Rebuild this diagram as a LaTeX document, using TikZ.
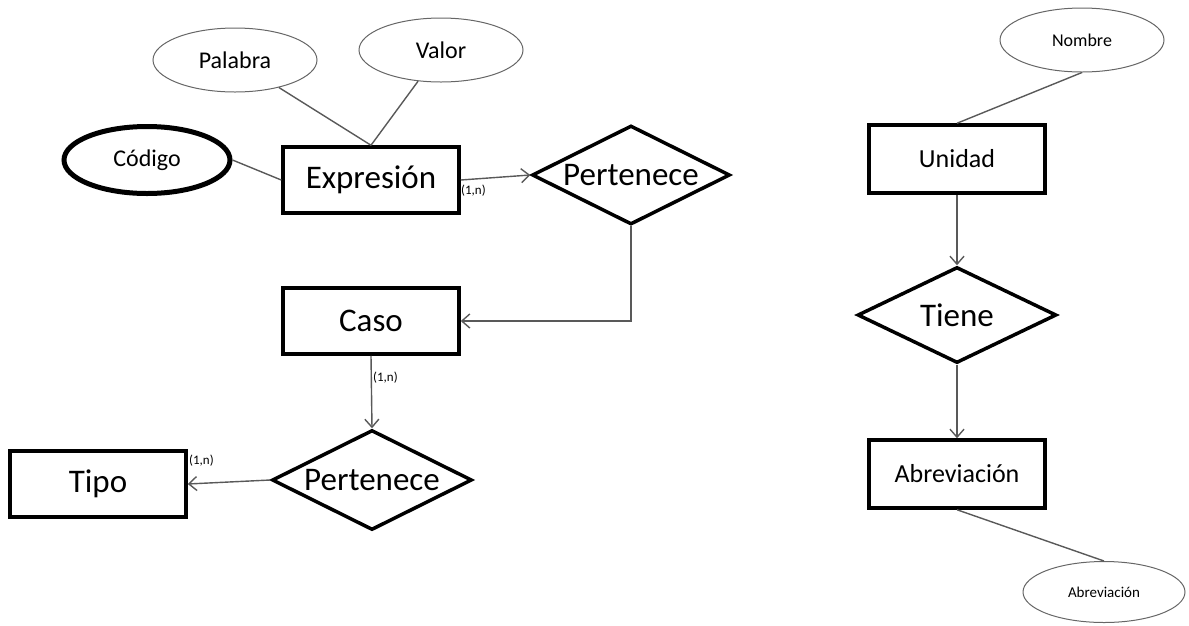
\documentclass[tikz,border=0pt]{standalone}
\usepackage{fontspec}
\setmainfont{Carlito}
\usetikzlibrary{shapes.geometric,arrows.meta}
\begin{document}
\begin{tikzpicture}[x=1pt,y=-1pt,
  entity/.style={draw=black,line width=3.5pt,rectangle,minimum width=176pt,minimum height=66pt,inner sep=0pt,font=\fontsize{33}{36}\selectfont},
  relation/.style={draw=black,line width=3.5pt,diamond,aspect=2,minimum width=198pt,minimum height=99pt,inner sep=0pt,font=\fontsize{33}{36}\selectfont},
  attrib/.style={draw=black!60,line width=1pt,ellipse,minimum width=164pt,minimum height=64pt,inner sep=0pt,font=\fontsize{24}{26}\selectfont},
  keyattrib/.style={attrib,draw=black,line width=5pt},
  link/.style={draw=black!65,line width=1.4pt},
  arrowlink/.style={link,-{Straight Barb[length=8pt,width=14pt]}},
  card/.style={font=\fontsize{13}{15}\selectfont,inner sep=1pt}
]
\useasboundingbox (0,0) rectangle (1189,625);

% left part: Expresion, Caso, Tipo
\node[attrib] (pal) at (235,60) {Palabra};
\node[attrib] (val) at (441,50) {Valor};
\node[keyattrib,minimum width=166pt,minimum height=67pt] (cod) at (147,160) {Código};
\node[entity] (expr) at (371,180) {Expresión};
\node[relation] (per1) at (631,175) {Pertenece};
\node[entity] (caso) at (371,321) {Caso};
\node[relation,minimum width=200pt,minimum height=100pt] (per2) at (372,480) {Pertenece};
\node[entity] (tipo) at (98,484) {Tipo};

\draw[link] (pal) -- (expr.north);
\draw[link] (val) -- (expr.north);
\draw[link] (cod.east) -- (expr.west);
\draw[arrowlink] (expr.east) -- (per1.west);
\draw[arrowlink] (per1.south) -- (per1.south |- caso.east) -- (caso.east);
\draw[arrowlink] (caso.south) -- (per2.north);
\draw[arrowlink] (per2.west) -- (tipo.east);

\node[card,anchor=north west] (c1) at (460,184) {(1,n)};
\node[card,anchor=west] (c2) at (372,378) {(1,n)};
\node[card,anchor=west] (c3) at (188,461) {(1,n)};

% right part: Unidad, Tiene, Abreviacion
\node[attrib,font=\fontsize{18}{20}\selectfont] (nom) at (1082,40) {Nombre};
\node[entity,font=\fontsize{26}{28}\selectfont,minimum height=68pt] (uni) at (957,159) {Unidad};
\node[relation,minimum width=199pt,minimum height=96pt] (tiene) at (957,315) {Tiene};
\node[entity,font=\fontsize{26}{28}\selectfont,minimum height=68pt] (abr) at (957,474) {Abreviación};
\node[attrib,minimum width=162pt,minimum height=61pt,font=\fontsize{15}{17}\selectfont] (abrat) at (1104,592) {Abreviación};

\draw[link] (nom.south) -- (uni.north);
\draw[arrowlink] (uni.south) -- (tiene.north);
\draw[arrowlink] (tiene.south) -- (abr.north);
\draw[link] (abr.south) -- (abrat.north);
\end{tikzpicture}
\end{document}
